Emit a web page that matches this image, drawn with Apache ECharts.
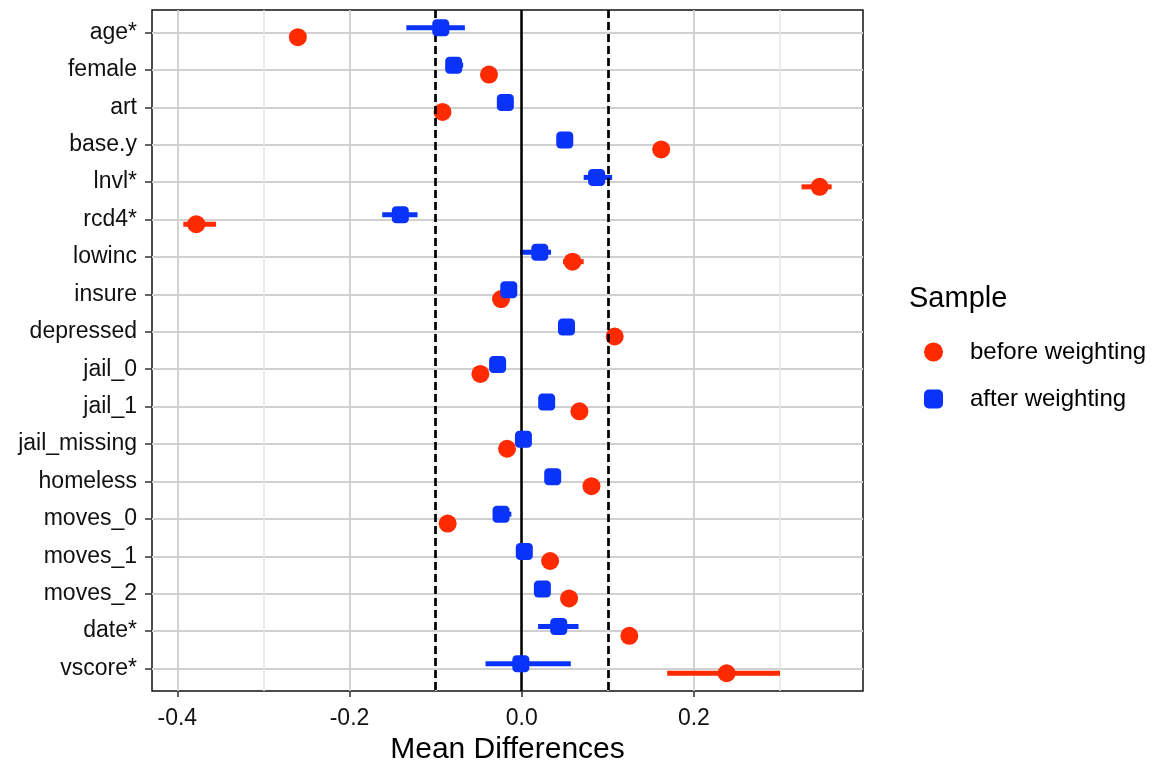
<!DOCTYPE html>
<html>
<head>
<meta charset="utf-8">
<script src="https://cdn.jsdelivr.net/npm/echarts@6/dist/echarts.min.js"></script>
<style>
html,body{margin:0;padding:0;background:#fff;}
#chart{width:1151px;height:763px;}
</style>
</head>
<body>
<div id="chart"></div>
<script>
const categories = ['age*','female','art','base.y','lnvl*','rcd4*','lowinc','insure','depressed','jail_0','jail_1','jail_missing','homeless','moves_0','moves_1','moves_2','date*','vscore*'];

const before   = [-0.260, -0.038, -0.092, 0.162, 0.346, -0.378, 0.059, -0.024, 0.108, -0.048, 0.067, -0.017, 0.081, -0.086, 0.033, 0.055, 0.125, 0.238];
const beforeLo = [-0.265, -0.042, -0.096, 0.158, 0.325, -0.393, 0.048, -0.028, 0.104, -0.052, 0.063, -0.021, 0.077, -0.090, 0.029, 0.051, 0.121, 0.169];
const beforeHi = [-0.255, -0.034, -0.088, 0.166, 0.360, -0.355, 0.072, -0.020, 0.112, -0.044, 0.071, -0.013, 0.085, -0.082, 0.037, 0.059, 0.129, 0.300];

const after   = [-0.094, -0.079, -0.019, 0.050, 0.087, -0.141, 0.021, -0.015, 0.052, -0.028, 0.029, 0.002, 0.036, -0.024, 0.003, 0.024, 0.043, -0.001];
const afterLo = [-0.134, -0.084, -0.023, 0.046, 0.072, -0.162, -0.002, -0.019, 0.048, -0.032, 0.025, -0.002, 0.032, -0.029, -0.001, 0.020, 0.019, -0.042];
const afterHi = [-0.066, -0.068, -0.015, 0.054, 0.105, -0.121, 0.034, -0.011, 0.056, -0.024, 0.033, 0.006, 0.040, -0.012, 0.007, 0.028, 0.066, 0.057];

const xTickValues = [-0.4, -0.2, 0.0, 0.2];
const xMinorValues = [-0.3, -0.1, 0.1, 0.3];
const dashedRefs = [-0.1, 0.1];
const solidRefs = [0];

const seriesNames = ['before weighting', 'after weighting'];
const legendTitle = 'Sample';
const xTitle = 'Mean Differences';

const RED = '#FF2A00';
const BLUE = '#0A33FA';
const FONT = "'Liberation Sans', Arial, Helvetica, sans-serif";
const OFF_BEFORE = 4.7, OFF_AFTER = -4.7;

const idx = categories.map((_, i) => i);

function errSeries(lo, hi, color, off, name) {
  return {
    type: 'custom', name: name + ' CI', xAxisIndex: 0, yAxisIndex: 0, z: 3, silent: true,
    data: lo.map((l, i) => [l, hi[i], i]),
    renderItem: function (params, api) {
      const a = api.coord([api.value(0), api.value(2)]);
      const b = api.coord([api.value(1), api.value(2)]);
      return { type: 'line', shape: { x1: a[0], y1: a[1] + off, x2: b[0], y2: b[1] + off },
        style: { stroke: color, lineWidth: 5, lineCap: 'butt' } };
    }
  };
}

const chart = echarts.init(document.getElementById('chart'), null, { renderer: 'canvas' });
chart.setOption({
  animation: false,
  backgroundColor: '#fff',
  textStyle: { fontFamily: FONT },
  title: { text: legendTitle, left: 909, top: 284, padding: 0,
    textStyle: { fontSize: 29, fontWeight: 'normal', color: '#000', fontFamily: FONT } },
  legend: {
    data: [{ name: seriesNames[0], icon: 'circle' }, { name: seriesNames[1], icon: 'roundRect' }],
    orient: 'vertical', left: 924, top: 340, padding: 0,
    itemWidth: 19, itemHeight: 19, itemGap: 23,
    textStyle: { fontSize: 24, color: '#000', fontFamily: FONT, lineHeight: 19, padding: [0, 0, 0, 22] }
  },
  grid: { left: 152, right: 288, top: 10, bottom: 72, containLabel: false, outerBoundsMode: 'none',
    show: true, borderColor: '#111', borderWidth: 1.5, backgroundColor: '#fff' },
  xAxis: [{
    type: 'value', min: -0.4294, max: 0.3964, position: 'bottom',
    name: xTitle, nameLocation: 'middle', nameGap: 34,
    nameTextStyle: { fontSize: 30, color: '#000', fontFamily: FONT },
    axisLine: { show: false, onZero: false },
    axisTick: { show: true, customValues: xTickValues, length: 6, lineStyle: { color: '#333', width: 1.5 } },
    axisLabel: { customValues: xTickValues, formatter: v => v.toFixed(1), fontSize: 23, color: '#111', margin: 16, fontFamily: FONT },
    splitLine: { show: true, lineStyle: { color: '#cfcfcf', width: 1.8 } }
  }, {
    type: 'value', min: -0.4294, max: 0.3964, position: 'top',
    axisLine: { show: false, onZero: false },
    axisTick: { show: false, customValues: xMinorValues },
    axisLabel: { show: false, customValues: xMinorValues },
    splitLine: { show: true, lineStyle: { color: '#e4e4e4', width: 1.5 } }
  }],
  yAxis: {
    type: 'value', min: -0.6, max: 17.6, inverse: true,
    axisLine: { show: false, onZero: false },
    axisTick: { show: true, customValues: idx, length: 7, lineStyle: { color: '#333', width: 1.5 } },
    axisLabel: { customValues: idx, formatter: v => categories[Math.round(v)], fontSize: 23, color: '#111', margin: 15, fontFamily: FONT },
    splitLine: { show: true, lineStyle: { color: '#d0d0d0', width: 1.8 } }
  },
  series: [
    {
      type: 'scatter', name: '_refs', xAxisIndex: 0, yAxisIndex: 0, data: [], z: 2, silent: true,
      markLine: {
        silent: true, symbol: ['none', 'none'], label: { show: false }, animation: false,
        data: dashedRefs.map(v => ({ xAxis: v, lineStyle: { color: '#000', width: 2.7, type: [8, 4] } }))
          .concat(solidRefs.map(v => ({ xAxis: v, lineStyle: { color: '#000', width: 2.5, type: 'solid' } })))
      }
    },
    errSeries(beforeLo, beforeHi, RED, OFF_BEFORE, seriesNames[0]),
    {
      type: 'scatter', name: seriesNames[0], xAxisIndex: 0, yAxisIndex: 0, z: 4,
      symbol: 'circle', symbolSize: 18, symbolOffset: [0, OFF_BEFORE],
      itemStyle: { color: RED, opacity: 1 },
      data: before.map((v, i) => [v, i])
    },
    errSeries(afterLo, afterHi, BLUE, OFF_AFTER, seriesNames[1]),
    {
      type: 'scatter', name: seriesNames[1], xAxisIndex: 0, yAxisIndex: 0, z: 6,
      symbol: 'roundRect', symbolSize: 17, symbolOffset: [0, OFF_AFTER],
      itemStyle: { color: BLUE, opacity: 1 },
      data: after.map((v, i) => [v, i])
    }
  ]
});
</script>
</body>
</html>
